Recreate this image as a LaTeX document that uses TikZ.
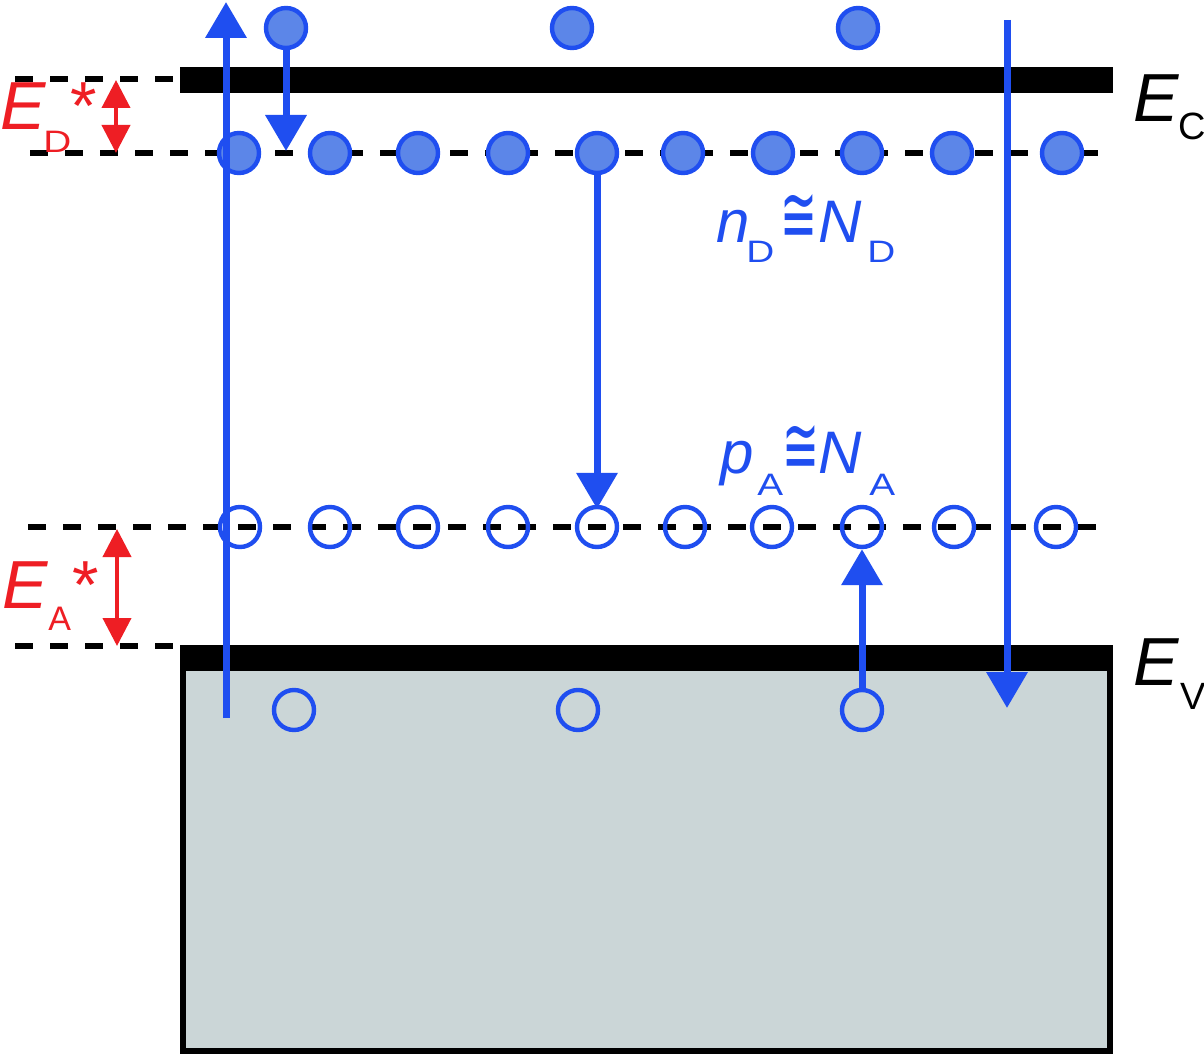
\documentclass[tikz,border=0pt]{standalone}
\usepackage{fontspec}
\setmainfont{Liberation Sans}
\newfontfamily\dejavu{DejaVu Sans}
\usepackage{graphicx}
\usetikzlibrary{arrows.meta}
\definecolor{bblue}{RGB}{31,78,240}
\definecolor{dfill}{RGB}{92,134,232}
\definecolor{rred}{RGB}{238,30,36}
\definecolor{boxfill}{RGB}{203,214,215}
\newcommand{\bigEit}{{\fontsize{34}{34}\selectfont\itshape E}}
\newcommand{\myast}{{\fontsize{34}{34}\selectfont *}}
\newcommand{\midit}[1]{{\fontsize{30}{30}\selectfont\itshape #1}}
\newcommand{\smsub}[2]{\raisebox{-#1}{\scalebox{1.25}[1]{\fontsize{15.5}{15.5}\selectfont #2}}}
\newcommand{\congsym}{\resizebox{18.5pt}{24pt}{\dejavu ≅}}
\tikzset{
  levelline/.style={black, line width=3pt, dash pattern=on 9pt off 8.5pt},
  donor/.style={circle, draw=bblue, fill=dfill, line width=2.2pt, minimum size=20pt, inner sep=0pt},
  hole/.style={circle, draw=bblue, line width=2.2pt, minimum size=20pt, inner sep=0pt},
  barrow/.style={draw=bblue, line width=3.5pt, -{Triangle[width=20pt,length=18pt]}},
  rarrow/.style={draw=rred, line width=2pt, {Triangle[width=14pt,length=14pt]}-{Triangle[width=14pt,length=14pt]}},
  lbl/.style={inner sep=0pt, anchor=base west}
}
\begin{document}
\begin{tikzpicture}[x=0.5pt,y=-0.5pt]
\useasboundingbox[fill=white] (0,0) rectangle (1204,1054);
% valence band box
\draw[fill=boxfill, line width=3pt] (183,648) rectangle (1110,1051);
\fill[black] (180,645) rectangle (1113,671);
% conduction band bar
\fill[black] (180,67) rectangle (1113,93);
% level lines
\draw[levelline] (15,79) -- (180,79);
\draw[levelline] (30,153) -- (1100,153);
\draw[levelline] (28,527) -- (1100,527);
\draw[levelline] (15,646) -- (180,646);
% donors
\foreach \i/\x in {1/239,2/330,3/418,4/508,5/597,6/683,7/773,8/862,9/952,10/1062}
  \node[donor] (d\i) at (\x,153) {};
% acceptors
\foreach \i/\x in {1/240,2/330,3/418,4/508,5/597,6/685,7/772,8/862,9/954,10/1056}
  \node[hole] (a\i) at (\x,527) {};
% conduction-band electrons
\node[donor] (t1) at (286,28) {};
\node[donor] (t2) at (572,28) {};
\node[donor] (t3) at (858,28) {};
% valence-band holes
\node[hole] (b1) at (294,710) {};
\node[hole] (b2) at (578,710) {};
\node[hole] (b3) at (862,710) {};
% arrows
\coordinate (lbot) at (226,718);
\coordinate (ltop) at (226,2);
\coordinate (t1tip) at (286,151);
\coordinate (rtop) at (1007,20);
\coordinate (rbot) at (1007,708);
\draw[barrow] (lbot) -- (ltop);
\draw[barrow] (t1) -- (t1tip);
\draw[barrow, shorten >=-2pt] (d5) -- (a5);
\draw[barrow] (b3) -- (a8);
\draw[barrow] (rtop) -- (rbot);
% red energy arrows
\coordinate (edtop) at (116,80);
\coordinate (edbot) at (116,153);
\coordinate (eatop) at (117,529);
\coordinate (eabot) at (117,646);
\draw[rarrow] (edtop) -- (edbot);
\draw[rarrow] (eatop) -- (eabot);
% labels
\node[lbl, text=rred] (ED) at (0,130) {\rlap{\bigEit}\hspace{21.5pt}\rlap{\smsub{11pt}{D}}\hspace{13.5pt}\rlap{\myast}\hspace{12pt}};
\node[lbl, text=rred] (EA) at (2,608) {\rlap{\bigEit}\hspace{23pt}\rlap{\raisebox{-11pt}{\fontsize{17}{17}\selectfont A}}\hspace{12pt}\rlap{\myast}\hspace{12pt}};
\node[lbl] (EC) at (1133,122) {\rlap{\bigEit}\hspace{22.5pt}\rlap{\raisebox{-9pt}{\fontsize{19}{19}\selectfont C}}\hspace{14pt}};
\node[lbl] (EV) at (1133,685) {\rlap{\bigEit}\hspace{23.5pt}\rlap{\raisebox{-12pt}{\fontsize{19}{19}\selectfont V}}\hspace{14pt}};
\node[lbl, text=bblue] (nD) at (716,242) {\rlap{\midit{n}}\hspace{15pt}\rlap{\smsub{10pt}{D}}\hspace{17pt}\rlap{\congsym}\hspace{19pt}\rlap{\midit{N}}\hspace{24.5pt}\rlap{\smsub{10pt}{D}}\hspace{14pt}};
\node[lbl, text=bblue] (pA) at (720,473) {\rlap{\midit{p}}\hspace{18.5pt}\rlap{\smsub{11pt}{A}}\hspace{12.5pt}\rlap{\congsym}\hspace{18pt}\rlap{\midit{N}}\hspace{25.5pt}\rlap{\smsub{11pt}{A}}\hspace{14pt}};
\end{tikzpicture}
\end{document}
